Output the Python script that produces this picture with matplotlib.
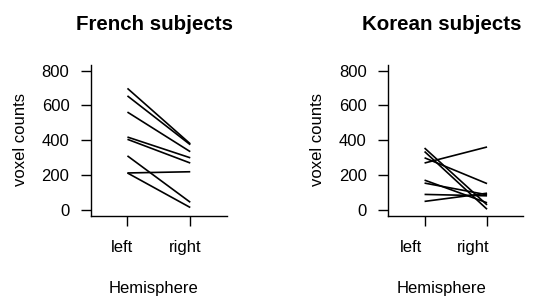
import matplotlib
matplotlib.use("Agg")
import matplotlib.pyplot as plt
from matplotlib.transforms import ScaledTranslation

plt.rcParams['font.family'] = ['Liberation Sans', 'DejaVu Sans']

hemispheres = ["left", "right"]
french_left = [698, 655, 562, 419, 406, 311, 213, 213]
french_right = [380, 375, 335, 300, 270, 45, 220, 15]
korean_left = [356, 336, 300, 270, 172, 155, 90, 50]
korean_right = [30, 5, 152, 362, 42, 88, 82, 97]
yticks = [0, 200, 400, 600, 800]
titles = ["French subjects", "Korean subjects"]

W, H = 539, 298
fig = plt.figure(figsize=(W / 100, H / 100), dpi=100)

def px_axes(x0, x1, y0, y1):
    return fig.add_axes([x0 / W, 1 - y1 / H, (x1 - x0) / W, (y1 - y0) / H])

panels = [
    dict(rect=(91, 226.7, 65, 215.7), left=french_left, right=french_right,
         title=titles[0], tcx=154, ylx=21, shift=-5),
    dict(rect=(388.3, 523.3, 65, 215.7), left=korean_left, right=korean_right,
         title=titles[1], tcx=441.5, ylx=317.5, shift=-14),
]

for p in panels:
    ax = px_axes(*p["rect"])
    xs = [1, 2]
    for l, r in zip(p["left"], p["right"]):
        ax.plot(xs, [l, r], color="black", lw=1.2, solid_capstyle="butt")
    ax.set_xlim(0.42, 2.58)
    ax.set_ylim(-32, 832)
    ax.spines["top"].set_visible(False)
    ax.spines["right"].set_visible(False)
    for s in ("left", "bottom"):
        ax.spines[s].set_linewidth(1.0)
    ax.set_xticks(xs)
    ax.set_xticklabels(hemispheres, fontsize=12)
    ax.set_yticks(yticks)
    ax.set_yticklabels([str(v) for v in yticks], fontsize=12)
    ax.tick_params(axis="both", direction="out", length=7.5, width=1.0)
    ax.tick_params(axis="x", pad=10)
    ax.tick_params(axis="y", pad=8)
    off = ScaledTranslation(p["shift"] / 100, 0, fig.dpi_scale_trans)
    for lab in ax.get_xticklabels():
        lab.set_transform(lab.get_transform() + off)
    fig.text(p["tcx"] / W, 1 - 24 / H, p["title"], ha="center", va="center",
             fontsize=14.8, fontweight="bold")
    fig.text(p["tcx"] / W, 1 - 288 / H, "Hemisphere", ha="center", va="center",
             fontsize=12)
    fig.text(p["ylx"] / W, 1 - 140 / H, "voxel counts", ha="center", va="center",
             rotation=90, fontsize=12)

fig.savefig("out.png", dpi=100)
